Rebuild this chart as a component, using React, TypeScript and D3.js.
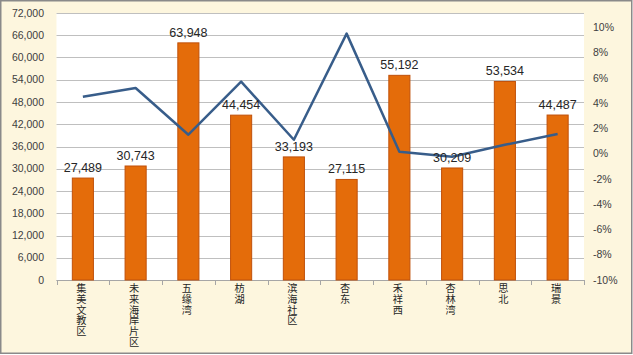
import React from "react";
import * as d3 from "d3";

const categories = ["集美文教区", "未来海岸片区", "五缘湾", "枋湖", "滨海社区", "杏东", "禾祥西", "杏林湾", "思北", "瑞景"];
const counts = [27489, 30743, 63948, 44454, 33193, 27115, 55192, 30209, 53534, 44487];
const growth = [4.5, 5.2, 1.5, 5.7, 1.1, 9.5, 0.15, -0.25, 0.7, 1.55];
const leftTicks = d3.range(0, 72001, 6000);
const rightTicks = d3.range(-10, 11, 2);

const W = 633;
const H = 355;
const plotL = 56.5;
const plotR = 584;
const plotT = 13;
const plotB = 280;

export default function App() {
  const x = d3.scaleBand<string>().domain(categories).range([plotL, plotR]).paddingInner(0.6).paddingOuter(0.3);
  const step = x.step();
  const yL = d3.scaleLinear().domain([0, 72000]).range([plotB, plotT]);
  const yR = d3.scaleLinear().domain([-10, 10]).range([plotB, 27.3]);
  const fmt = d3.format(",");
  const cx = (c: string) => (x(c) as number) + x.bandwidth() / 2;
  const line = d3
    .line<number>()
    .x((_, i) => cx(categories[i]))
    .y((d) => yR(d));

  return (
    <div style={{ position: "fixed", left: 0, top: 0 }}>
      <svg width={W} height={H} style={{ display: "block" }}>
        <rect x={0.75} y={0.75} width={631} height={352.5} fill="#FDF6DE" stroke="#8a8a8a" strokeWidth={1.5} />
        <rect x={plotL} y={plotT} width={plotR - plotL} height={plotB - plotT} fill="#ffffff" />
        {leftTicks.map((t) => (
          <line key={"g" + t} x1={plotL} x2={plotR} y1={Math.round(yL(t)) + 0.5} y2={Math.round(yL(t)) + 0.5} stroke="#BFBFBF" strokeWidth={1} />
        ))}
        {leftTicks.map((t) => (
          <text key={"l" + t} x={44} y={yL(t)} dy="0.35em" textAnchor="end" fontFamily="Liberation Sans, Arial, sans-serif" fontSize={10.5} fill="#404040">
            {fmt(t)}
          </text>
        ))}
        {rightTicks.map((t) => (
          <text key={"r" + t} x={593} y={yR(t)} dy="0.35em" textAnchor="start" fontFamily="Liberation Sans, Arial, sans-serif" fontSize={10.5} fill="#404040">
            {t + "%"}
          </text>
        ))}
        <line x1={plotL} x2={plotR} y1={plotB + 0.5} y2={plotB + 0.5} stroke="#A6A6A6" />
        {d3.range(categories.length + 1).map((i) => (
          <line key={"t" + i} x1={Math.round(plotL + i * step) + 0.5} x2={Math.round(plotL + i * step) + 0.5} y1={plotB} y2={plotB + 5} stroke="#A6A6A6" />
        ))}
        {categories.map((c, i) => (
          <rect key={"b" + c} x={x(c)} y={yL(counts[i])} width={x.bandwidth()} height={plotB - yL(counts[i])} fill="#E46C0A" stroke="#C0500A" strokeWidth={1} />
        ))}
        <path d={line(growth) || ""} fill="none" stroke="#385D8A" strokeWidth={2.5} strokeLinejoin="round" />
        {categories.map((c, i) => (
          <text key={"v" + c} x={cx(c)} y={yL(counts[i]) - 6} textAnchor="middle" fontFamily="Liberation Sans, Arial, sans-serif" fontSize={12.5} fill="#262626">
            {fmt(counts[i])}
          </text>
        ))}
        {categories.map((c) => (
          <text
            key={"c" + c}
            x={cx(c) - 1.5}
            y={283}
            style={{ writingMode: "vertical-rl", letterSpacing: "0.6px" }}
            textAnchor="start"
            fontFamily="Noto Sans CJK SC, sans-serif"
            fontSize={10.2}
            fill="#262626"
          >
            {c}
          </text>
        ))}
      </svg>
    </div>
  );
}
